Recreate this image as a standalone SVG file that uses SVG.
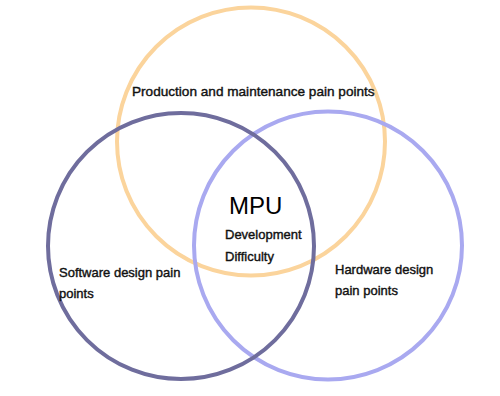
<svg xmlns="http://www.w3.org/2000/svg" width="500" height="396" viewBox="0 0 500 396">
  <style>
    .ring { fill: none; stroke-width: 4; }
    .lbl { font-family: "Liberation Sans", Arial, sans-serif; font-size: 13px; fill: #111; stroke: #111; stroke-width: 0.4; }
    .big { font-family: "Liberation Sans", Arial, sans-serif; font-size: 24px; fill: #000; }
  </style>
  <rect width="500" height="396" fill="#ffffff"/>
  <g id="production">
    <circle class="ring" cx="251" cy="141.5" r="134" stroke="#fbd49c"/>
    <text class="lbl" x="132" y="96" style="font-size:13.6px">Production and maintenance pain points</text>
  </g>
  <g id="hardware">
    <circle class="ring" cx="328" cy="245.5" r="134" stroke="#a9a9f0"/>
    <text class="lbl" x="335" y="274">Hardware design</text>
    <text class="lbl" x="335" y="295">pain points</text>
  </g>
  <g id="software">
    <circle class="ring" cx="181" cy="246" r="133" stroke="#6f6d9d"/>
    <text class="lbl" x="59" y="277">Software design pain</text>
    <text class="lbl" x="59" y="298">points</text>
  </g>
  <g id="mpu">
    <text class="big" x="229" y="214">MPU</text>
    <text class="lbl" x="225" y="239">Development</text>
    <text class="lbl" x="225" y="261">Difficulty</text>
  </g>
</svg>
